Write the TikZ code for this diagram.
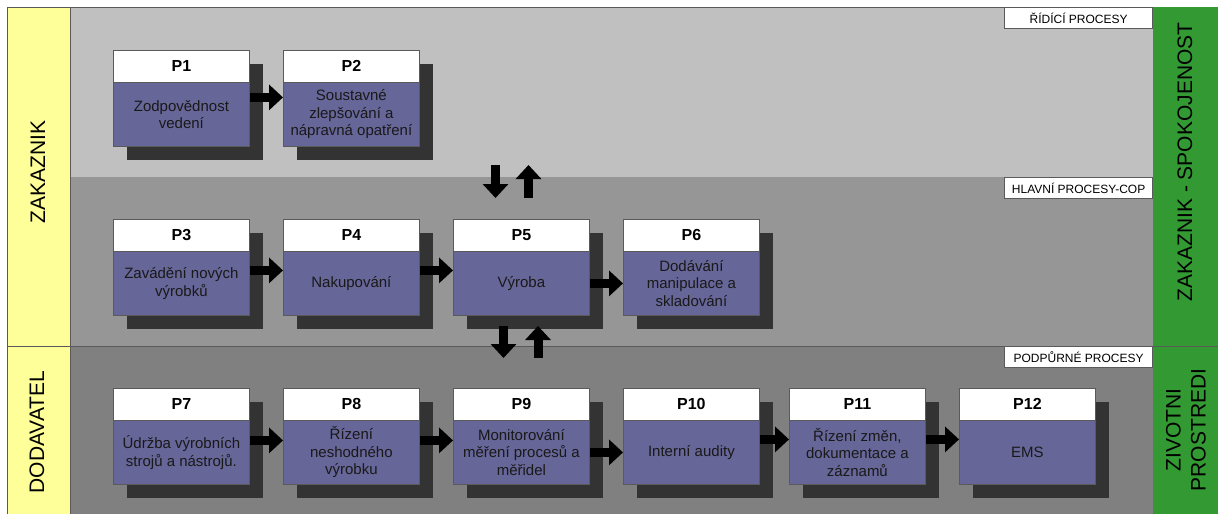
\documentclass[tikz,border=0pt]{standalone}
\usepackage{fontspec}
\setmainfont{Liberation Sans}
\usetikzlibrary{arrows.meta}

\definecolor{bandtop}{HTML}{C0C0C0}
\definecolor{bandmid}{HTML}{969696}
\definecolor{bandlow}{HTML}{808080}
\definecolor{sideyellow}{HTML}{FFFF99}
\definecolor{sidegreen}{HTML}{339933}
\definecolor{procbody}{HTML}{666699}
\definecolor{procshadow}{HTML}{333333}
\definecolor{edgegray}{HTML}{5A5A5A}

\tikzset{
  headbox/.style={draw=edgegray, fill=white, line width=0.8pt,
    minimum width=136pt, minimum height=32pt, inner sep=0pt,
    font=\fontsize{16}{18}\selectfont\bfseries},
  bodybox/.style={draw=edgegray, fill=procbody, line width=0.8pt,
    minimum width=136pt, minimum height=64pt, inner sep=0pt, align=center,
    font=\fontsize{15}{17.5}\selectfont, text=black!90},
  flowarrow/.style={line width=9pt, -{Triangle[length=14pt,width=25pt]}},
  bandlabel/.style={draw=edgegray, fill=white, line width=0.8pt,
    minimum width=148pt, minimum height=21pt, inner sep=0pt,
    font=\fontsize{12}{14}\selectfont},
  sidelabel/.style={rotate=90, align=center, inner sep=0pt,
    font=\fontsize{21}{25}\selectfont},
}

% process box: #1 name, #2 left x, #3 top y, #4 title, #5 description
\newcommand\procbox[5]{%
  \fill[procshadow] (#2+13.5,#3+13.5) rectangle ++(136,96);
  \node[headbox, anchor=north west] (#1h) at (#2,#3) {#4};
  \node[bodybox, anchor=north west] (#1) at (#2,#3+32) {#5};}

\begin{document}
\begin{tikzpicture}[x=1pt,y=-1pt]
  \useasboundingbox (0,0) rectangle (1222,514);

  % process bands
  \fill[bandtop] (70,7) rectangle (1153,177);
  \fill[bandmid] (70,177) rectangle (1153,346);
  \fill[bandlow] (70,346) rectangle (1153,514);

  % side columns
  \fill[sideyellow] (7,7) rectangle (70,514);
  \fill[sidegreen] (1153,7) rectangle (1218,514);
  \draw[edgegray, line width=0.8pt] (7,514) -- (7,7) -- (1153,7);
  \draw[edgegray, line width=0.8pt] (70,7) -- (70,514);
  \draw[edgegray, line width=0.8pt] (7,346) -- (1218,346);

  % band titles
  \node[bandlabel, anchor=north east] (ridici) at (1153,7) {ŘÍDÍCÍ PROCESY};
  \node[bandlabel, anchor=north east] (hlavni) at (1153,177) {HLAVNÍ PROCESY-COP};
  \node[bandlabel, anchor=north east] (podpurne) at (1153,346) {PODPŮRNÉ PROCESY};

  % side titles
  \node[sidelabel] (zakaznik) at (38,172) {ZAKAZNIK};
  \node[sidelabel] (dodavatel) at (37,432) {DODAVATEL};
  \node[sidelabel] (spokojenost) at (1185,162) {ZAKAZNIK - SPOKOJENOST};
  \node[sidelabel] (prostredi) at (1186,430) {ZIVOTNI\\PROSTREDI};

  % control processes
  \procbox{p1}{113}{50}{P1}{Zodpovědnost\\vedení}
  \procbox{p2}{283}{50}{P2}{Soustavné\\zlepšování a\\nápravná opatření}

  % main processes
  \procbox{p3}{113}{219}{P3}{Zavádění nových\\výrobků}
  \procbox{p4}{283}{219}{P4}{Nakupování}
  \procbox{p5}{453}{219}{P5}{Výroba}
  \procbox{p6}{623}{219}{P6}{Dodávání\\manipulace a\\skladování}

  % support processes
  \procbox{p7}{113}{388}{P7}{Údržba výrobních\\strojů a nástrojů.}
  \procbox{p8}{283}{388}{P8}{Řízení\\neshodného\\výrobku}
  \procbox{p9}{453}{388}{P9}{Monitorování\\měření procesů a\\měřidel}
  \procbox{p10}{623}{388}{P10}{Interní audity}
  \procbox{p11}{789}{388}{P11}{Řízení změn,\\dokumentace a\\záznamů}
  \procbox{p12}{959}{388}{P12}{EMS}

  % flow between processes
  \draw[flowarrow] ([yshift=17pt]p1.east) -- ([yshift=17pt]p2.west);
  \draw[flowarrow] ([yshift=13pt]p3.east) -- ([yshift=13pt]p4.west);
  \draw[flowarrow] ([yshift=13pt]p4.east) -- ([yshift=13pt]p5.west);
  \draw[flowarrow] (p5.east) -- (p6.west);
  \draw[flowarrow] ([yshift=12pt]p7.east) -- ([yshift=12pt]p8.west);
  \draw[flowarrow] ([yshift=12pt]p8.east) -- ([yshift=12pt]p9.west);
  \draw[flowarrow] (p9.east) -- (p10.west);
  \draw[flowarrow] ([yshift=13pt]p10.east) -- ([yshift=13pt]p11.west);
  \draw[flowarrow] ([yshift=13pt]p11.east) -- ([yshift=13pt]p12.west);

  % exchange between bands
  \coordinate (downAtop) at (495.5,165);
  \coordinate (downAbot) at (495.5,198);
  \coordinate (upAbot) at (528.5,198);
  \coordinate (upAtop) at (528.5,165);
  \coordinate (downBtop) at (503.5,326);
  \coordinate (downBbot) at (503.5,358);
  \coordinate (upBbot) at (538,358);
  \coordinate (upBtop) at (538,326);
  \draw[flowarrow] (downAtop) -- (downAbot);
  \draw[flowarrow] (upAbot) -- (upAtop);
  \draw[flowarrow] (downBtop) -- (downBbot);
  \draw[flowarrow] (upBbot) -- (upBtop);
\end{tikzpicture}
\end{document}
